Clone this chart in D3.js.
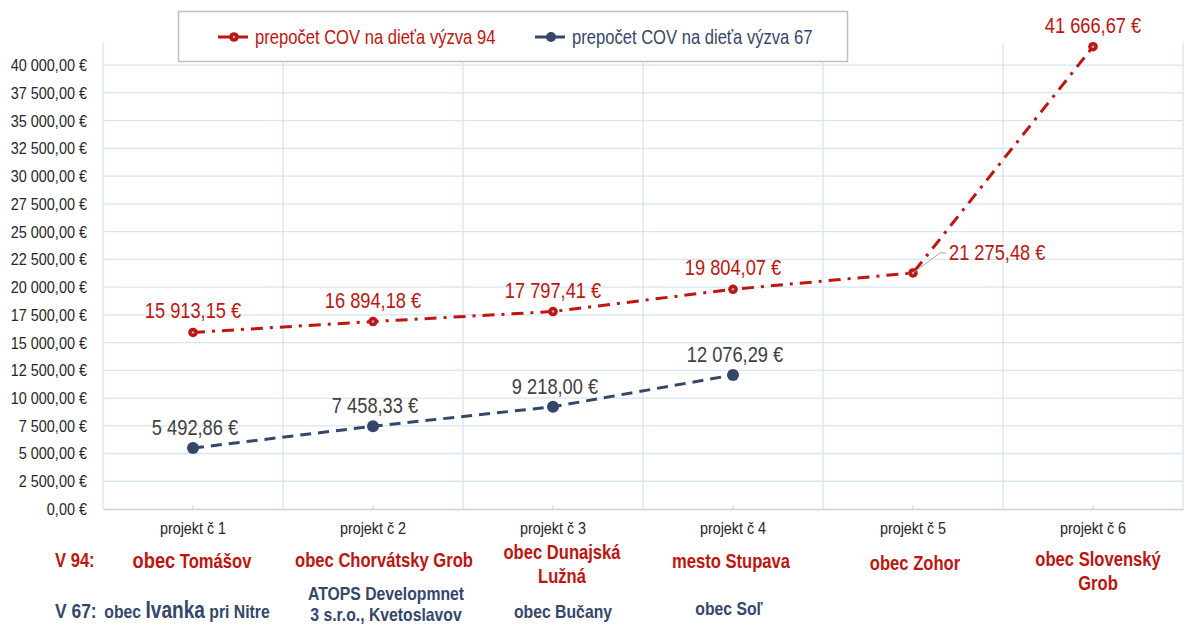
<!DOCTYPE html>
<html>
<head>
<meta charset="utf-8">
<script src="https://cdn.jsdelivr.net/npm/d3@7"></script>
<style>
  body { margin: 0; background: #fff; }
  svg { display: block; font-family: "Liberation Sans", Arial, sans-serif; }
</style>
</head>
<body>
<svg id="chart" width="1185" height="626"></svg>
<script>
// chart data
const categories = ['projekt č 1', 'projekt č 2', 'projekt č 3', 'projekt č 4', 'projekt č 5', 'projekt č 6'];
const seriesNames = ['prepočet COV na dieťa výzva 94', 'prepočet COV na dieťa výzva 67'];
const v94Values = [15913.15, 16894.18, 17797.41, 19804.07, 21275.48, 41666.67];
const v67Values = [5492.86, 7458.33, 9218.00, 12076.29];
const yTickValues = [0, 2500, 5000, 7500, 10000, 12500, 15000, 17500, 20000, 22500, 25000, 27500, 30000, 32500, 35000, 37500, 40000];
const rowLabels = ['V 94:', 'V 67:'];
const v94Places = [['obec Tomášov'], ['obec Chorvátsky Grob'], ['obec Dunajská', 'Lužná'], ['mesto Stupava'], ['obec Zohor'], ['obec Slovenský', 'Grob']];
const v67Places = [['obec Ivanka pri Nitre'], ['ATOPS Developmnet', '3 s.r.o., Kvetoslavov'], ['obec Bučany'], ['obec Soľ'], [], []];

// styling / layout
const RED = '#c0150f';
const BLUE = '#34476b';
const GRID = '#d6e4f4';
const NARROW = 0.83; // no narrow font installed, so squeeze the regular one
const margin = { left: 103, right: 1183, top: 43, bottom: 509 };
// text boxes in the source sit a bit off the category centre
const v94Dx = [-1, 11, 9, -2, 2, 5];
const v67Dx = [-6, 13, 10, -4, 0, 0];
const v94Cy = [561, 560, 564, 561, 563, 571];
const v67Cy = [611, 604, 611, 608, 0, 0];

const svg = d3.select('#chart');

const x = d3.scaleBand().domain(categories).range([margin.left, margin.right]);
const y = d3.scaleLinear().domain([0, 42000]).range([margin.bottom, margin.top]);

const sk = d3.formatLocale({ decimal: ',', thousands: '\u00a0', grouping: [3], currency: ['', ' €'] });
const money = v => sk.format(',.2f')(v) + ' €';

/**
 * Squeeze text horizontally around its own x anchor
 */
function squeeze(sel, k) {
  sel.each(function() {
    const t = d3.select(this);
    const x0 = +t.attr('x') || 0;
    t.attr('x', 0).attr('transform', `translate(${x0},0) scale(${k},1)`);
  });
}

// horizontal grid
svg.append('g')
  .selectAll('line')
  .data(yTickValues.filter(d => d > 0))
  .enter()
  .append('line')
  .attr('x1', margin.left)
  .attr('x2', margin.right)
  .attr('y1', d => y(d))
  .attr('y2', d => y(d))
  .attr('stroke', GRID)
  .attr('stroke-width', 1.3);

// vertical grid between categories
const bounds = categories.map(c => x(c)).concat([margin.right]);
svg.append('g')
  .selectAll('line')
  .data(bounds)
  .enter()
  .append('line')
  .attr('x1', d => d)
  .attr('x2', d => d)
  .attr('y1', margin.top)
  .attr('y2', margin.bottom)
  .attr('stroke', GRID)
  .attr('stroke-width', 1.3);

// y axis
const yAxis = svg.append('g')
  .attr('transform', `translate(${margin.left},0)`)
  .call(d3.axisLeft(y).tickValues(yTickValues).tickSize(0).tickPadding(16).tickFormat(money));
yAxis.select('.domain').remove();
yAxis.selectAll('text')
  .attr('fill', '#262626')
  .style('font-size', '17px')
  .style('font-family', '"Liberation Sans", Arial, sans-serif')
  .call(squeeze, 0.85);

// x axis
const xAxis = svg.append('g')
  .attr('transform', `translate(0,${margin.bottom})`)
  .call(d3.axisBottom(x).tickSizeInner(-4).tickSizeOuter(0).tickPadding(13));
xAxis.select('.domain').attr('stroke', '#d0d0d0').attr('stroke-width', 1.3);
xAxis.selectAll('.tick line').attr('stroke', '#d0d0d0');
xAxis.selectAll('text')
  .attr('fill', '#262626')
  .style('font-size', '16.5px')
  .style('font-family', '"Liberation Sans", Arial, sans-serif')
  .call(squeeze, 0.87);

// series lines
const cx = (d, i) => x(categories[i]) + x.bandwidth() / 2;
const line = d3.line().x(cx).y(d => y(d));

svg.append('path')
  .datum(v94Values)
  .attr('d', line)
  .attr('fill', 'none')
  .attr('stroke', RED)
  .attr('stroke-width', 3)
  .attr('stroke-dasharray', '12 7 3 7');

svg.append('path')
  .datum(v67Values)
  .attr('d', line)
  .attr('fill', 'none')
  .attr('stroke', BLUE)
  .attr('stroke-width', 3)
  .attr('stroke-dasharray', '11 7');

// markers
const redDots = svg.append('g').selectAll('g').data(v94Values).enter().append('g');
redDots.append('circle')
  .attr('cx', cx)
  .attr('cy', d => y(d))
  .attr('r', 4.8)
  .attr('fill', RED);
redDots.append('circle')
  .attr('cx', cx)
  .attr('cy', d => y(d))
  .attr('r', 1.3)
  .attr('fill', '#9fb4d0');

svg.append('g').selectAll('circle')
  .data(v67Values)
  .enter()
  .append('circle')
  .attr('cx', cx)
  .attr('cy', d => y(d))
  .attr('r', 6)
  .attr('fill', BLUE);

// data labels
const leaderIdx = 4;
svg.append('g').selectAll('text')
  .data(v94Values)
  .enter()
  .append('text')
  .attr('x', (d, i) => i === leaderIdx ? cx(d, i) + 36 : cx(d, i))
  .attr('y', (d, i) => i === leaderIdx ? y(d) - 21 + 8 : y(d) - 22 + 8)
  .attr('text-anchor', (d, i) => i === leaderIdx ? 'start' : 'middle')
  .attr('fill', RED)
  .style('font-size', '22px')
  .text(money)
  .call(squeeze, NARROW);

// leader line for the label that was moved aside
const lp = { x: cx(v94Values[leaderIdx], leaderIdx), y: y(v94Values[leaderIdx]) };
svg.append('path')
  .attr('d', `M${lp.x},${lp.y} L${lp.x + 27},${lp.y - 20} L${lp.x + 33},${lp.y - 20}`)
  .attr('fill', 'none')
  .attr('stroke', '#a6a6a6')
  .attr('stroke-width', 1);

svg.append('g').selectAll('text')
  .data(v67Values)
  .enter()
  .append('text')
  .attr('x', (d, i) => cx(d, i) + 2)
  .attr('y', d => y(d) - 21 + 8)
  .attr('text-anchor', 'middle')
  .attr('fill', '#404040')
  .style('font-size', '22px')
  .text(money)
  .call(squeeze, NARROW);

// legend
const legend = svg.append('g');
legend.append('rect')
  .attr('x', 178.5)
  .attr('y', 11.5)
  .attr('width', 669)
  .attr('height', 50)
  .attr('fill', '#fff')
  .attr('stroke', '#bfbfbf')
  .attr('stroke-width', 1.5);
const legendItems = [
  { x: 218, color: RED, r: 4.8, inner: true },
  { x: 535, color: BLUE, r: 5, inner: false }
];
legendItems.forEach((it, i) => {
  legend.append('line')
    .attr('x1', it.x).attr('x2', it.x + 30)
    .attr('y1', 37).attr('y2', 37)
    .attr('stroke', it.color).attr('stroke-width', 3);
  legend.append('circle')
    .attr('cx', it.x + 16).attr('cy', 37).attr('r', it.r).attr('fill', it.color);
  if (it.inner) {
    legend.append('circle')
      .attr('cx', it.x + 16).attr('cy', 37).attr('r', 1.3).attr('fill', '#9fb4d0');
  }
  legend.append('text')
    .attr('x', it.x + 37)
    .attr('y', 44)
    .attr('fill', it.color)
    .style('font-size', '20px')
    .text(seriesNames[i])
    .call(squeeze, NARROW);
});

// place names under the categories
const bigWord = { 'obec Tomášov': ['obec', 22], 'obec Ivanka pri Nitre': ['Ivanka', 23] };
function drawPlaces(places, dxs, cys, color, size, lineGap) {
  places.forEach((lines, i) => {
    const px = x(categories[i]) + x.bandwidth() / 2 + dxs[i];
    const top = cys[i] - (lines.length - 1) * lineGap / 2;
    lines.forEach((txt, j) => {
      const t = svg.append('text')
        .attr('x', px)
        .attr('y', top + j * lineGap + size * 0.36)
        .attr('text-anchor', 'middle')
        .attr('fill', color)
        .style('font-weight', 'bold')
        .style('font-size', size + 'px');
      const big = bigWord[txt];
      if (big) {
        txt.split(big[0]).forEach((part, k, arr) => {
          if (part) t.append('tspan').text(part);
          if (k < arr.length - 1) t.append('tspan').style('font-size', big[1] + 'px').text(big[0]);
        });
      } else {
        t.text(txt);
      }
      t.call(squeeze, NARROW);
    });
  });
}
drawPlaces(v94Places, v94Dx, v94Cy, RED, 20, 24);
drawPlaces(v67Places, v67Dx, v67Cy, BLUE, 19, 21);

// row labels
svg.append('text')
  .attr('x', 55).attr('y', 560 + 7)
  .attr('fill', RED).style('font-weight', 'bold').style('font-size', '20px')
  .text(rowLabels[0])
  .call(squeeze, NARROW);
svg.append('text')
  .attr('x', 55).attr('y', 611 + 7)
  .attr('fill', BLUE).style('font-weight', 'bold').style('font-size', '21px')
  .text(rowLabels[1])
  .call(squeeze, NARROW);
</script>
</body>
</html>
